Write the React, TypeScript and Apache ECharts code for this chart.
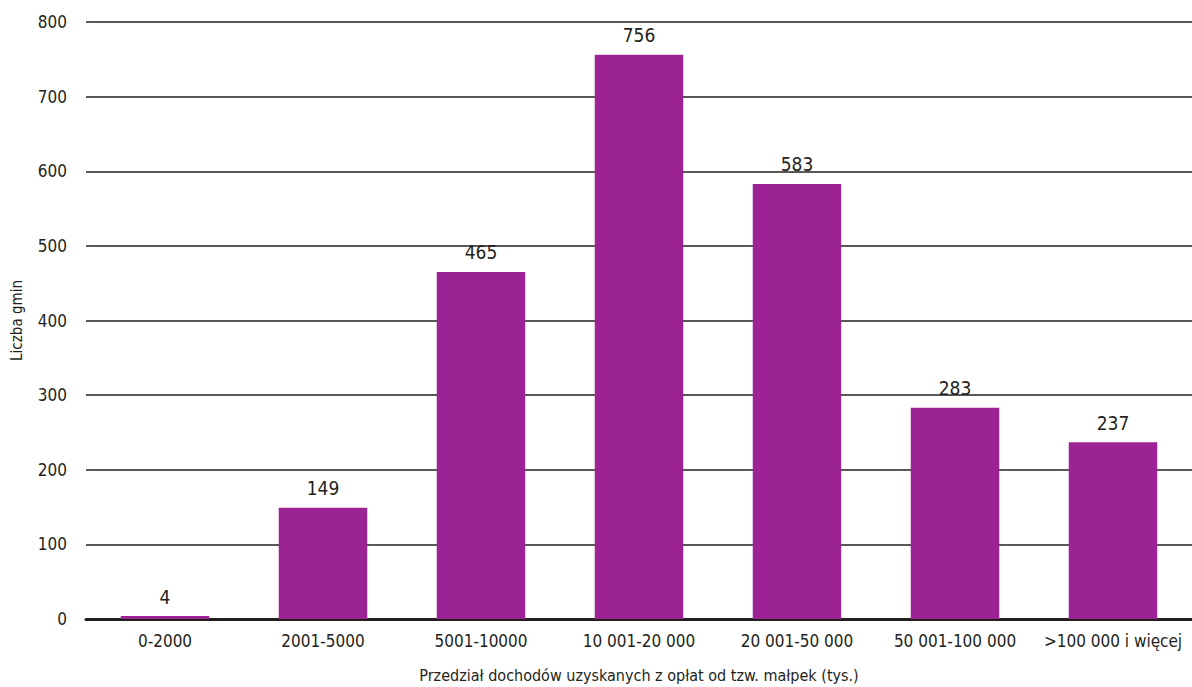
import React, { useEffect, useRef } from "react";
import * as echarts from "echarts";

const categories = [
  "0-2000",
  "2001-5000",
  "5001-10000",
  "10 001-20 000",
  "20 001-50 000",
  "50 001-100 000",
  ">100 000 i więcej",
];
const values = [4, 149, 465, 756, 583, 283, 237];
const yTicks = { min: 0, max: 800, interval: 100 };

const FONT = "'Liberation Sans Narrow', 'DejaVu Sans Condensed', 'Noto Sans', sans-serif";
const TEXT = "#231f20";

export default function App() {
  const ref = useRef<HTMLDivElement>(null);
  useEffect(() => {
    if (!ref.current) return;
    const chart = echarts.init(ref.current, null, { renderer: "svg" });
    chart.setOption({
      animation: false,
      grid: { left: 86, right: 0, top: 22, bottom: 68, containLabel: false, outerBoundsMode: "none" },
      xAxis: {
        type: "category",
        data: categories,
        name: "Przedział dochodów uzyskanych z opłat od tzw. małpek (tys.)",
        nameLocation: "middle",
        nameGap: 48,
        nameTextStyle: { fontFamily: FONT, fontSize: 16, color: TEXT },
        axisLine: { show: true, lineStyle: { color: TEXT, width: 3 } },
        axisTick: { show: false },
        axisLabel: { fontFamily: FONT, fontSize: 17, color: TEXT, margin: 13, interval: 0 },
      },
      yAxis: {
        type: "value",
        min: yTicks.min,
        max: yTicks.max,
        interval: yTicks.interval,
        name: "Liczba gmin",
        nameLocation: "middle",
        nameGap: 62,
        nameTextStyle: { fontFamily: FONT, fontSize: 15, color: TEXT },
        axisLine: { show: false },
        axisTick: { show: false },
        axisLabel: { fontFamily: FONT, fontSize: 17, color: TEXT, margin: 19 },
        splitLine: { show: true, lineStyle: { color: TEXT, width: 1.6 } },
      },
      series: [
        {
          type: "bar",
          data: values,
          barWidth: "56%",
          itemStyle: { color: "#9c2394" },
          label: {
            show: true,
            position: "top",
            distance: 10,
            fontFamily: FONT,
            fontSize: 19,
            color: TEXT,
          },
        },
      ],
    });
    return () => chart.dispose();
  }, []);
  return (
    <div
      ref={ref}
      style={{ position: "absolute", left: 0, top: 0, width: 1192, height: 687, background: "#fff" }}
    />
  );
}
